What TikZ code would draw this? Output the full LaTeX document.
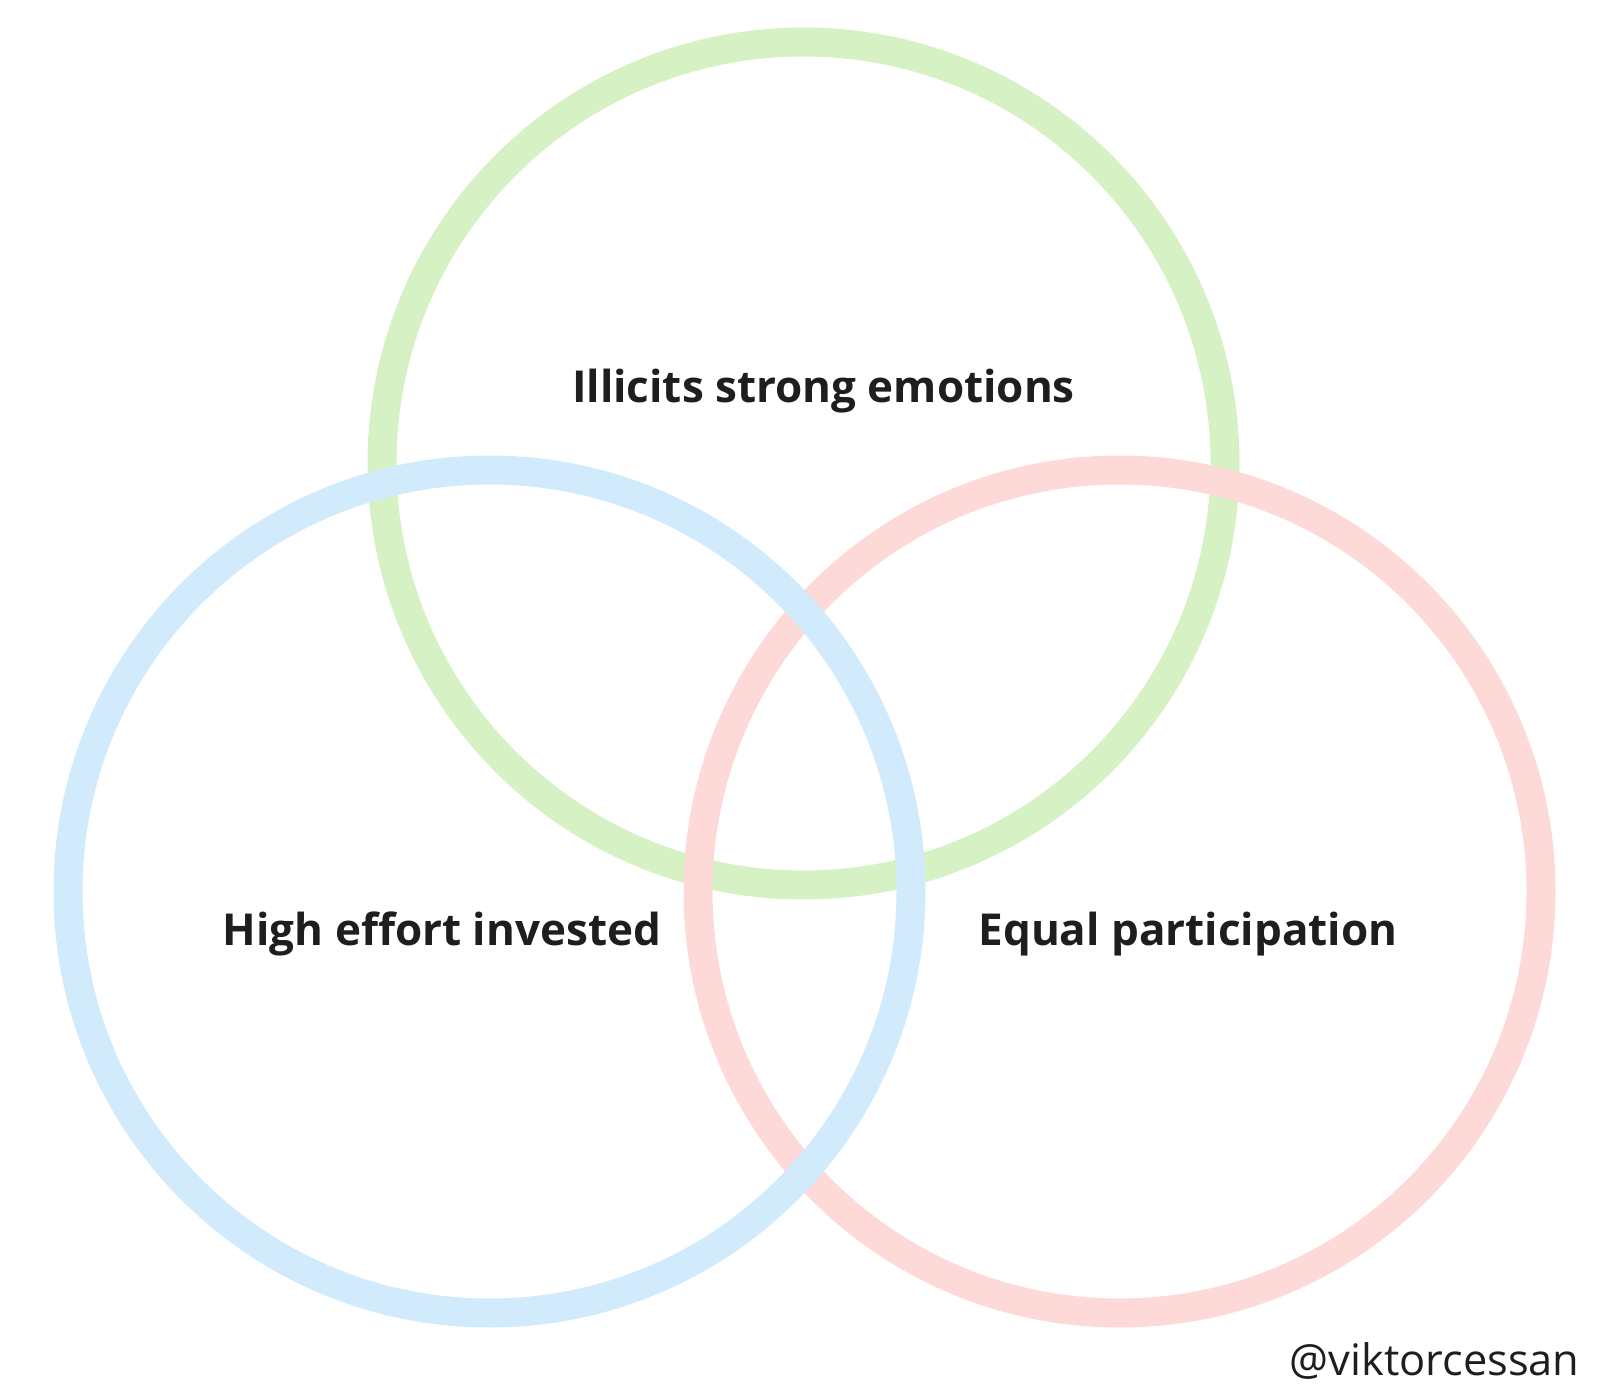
\documentclass[tikz,border=0pt]{standalone}
\usepackage{fontspec}
\setmainfont{Open Sans}
\usepackage{xcolor}
\usepackage{tikz}
\definecolor{venngreen}{RGB}{214,242,196}
\definecolor{vennblue}{RGB}{210,235,252}
\definecolor{vennpink}{RGB}{253,218,216}
\definecolor{labelgray}{RGB}{30,30,30}

\begin{document}
\begin{tikzpicture}[x=0.5pt, y=-0.5pt,
    ring/.style={circle, line width=14.5pt, minimum size=421.5pt, inner sep=0pt},
    label/.style={anchor=base, text=labelgray, font=\fontsize{22}{26}\selectfont\bfseries}]
    \useasboundingbox (0,0) rectangle (1612,1395);

    \node[ring, draw=venngreen] (emotions) at (803.5,463.5) {};
    \node[ring, draw=vennpink] (participation) at (1119.5,891.5) {};
    \node[ring, draw=vennblue] (effort) at (489.5,891.5) {};

    \node[label] (emotionstext) at (823.5,403) {Illicits strong emotions};
    \node[label] (efforttext) at (442,945) {High effort invested};
    \node[label] (participationtext) at (1188,945) {Equal participation};

    \node[anchor=base east, inner sep=0pt, text=labelgray, font=\fontsize{21.7}{26}\selectfont] (handle) at (1580,1375) {@viktorcessan};
\end{tikzpicture}
\end{document}
